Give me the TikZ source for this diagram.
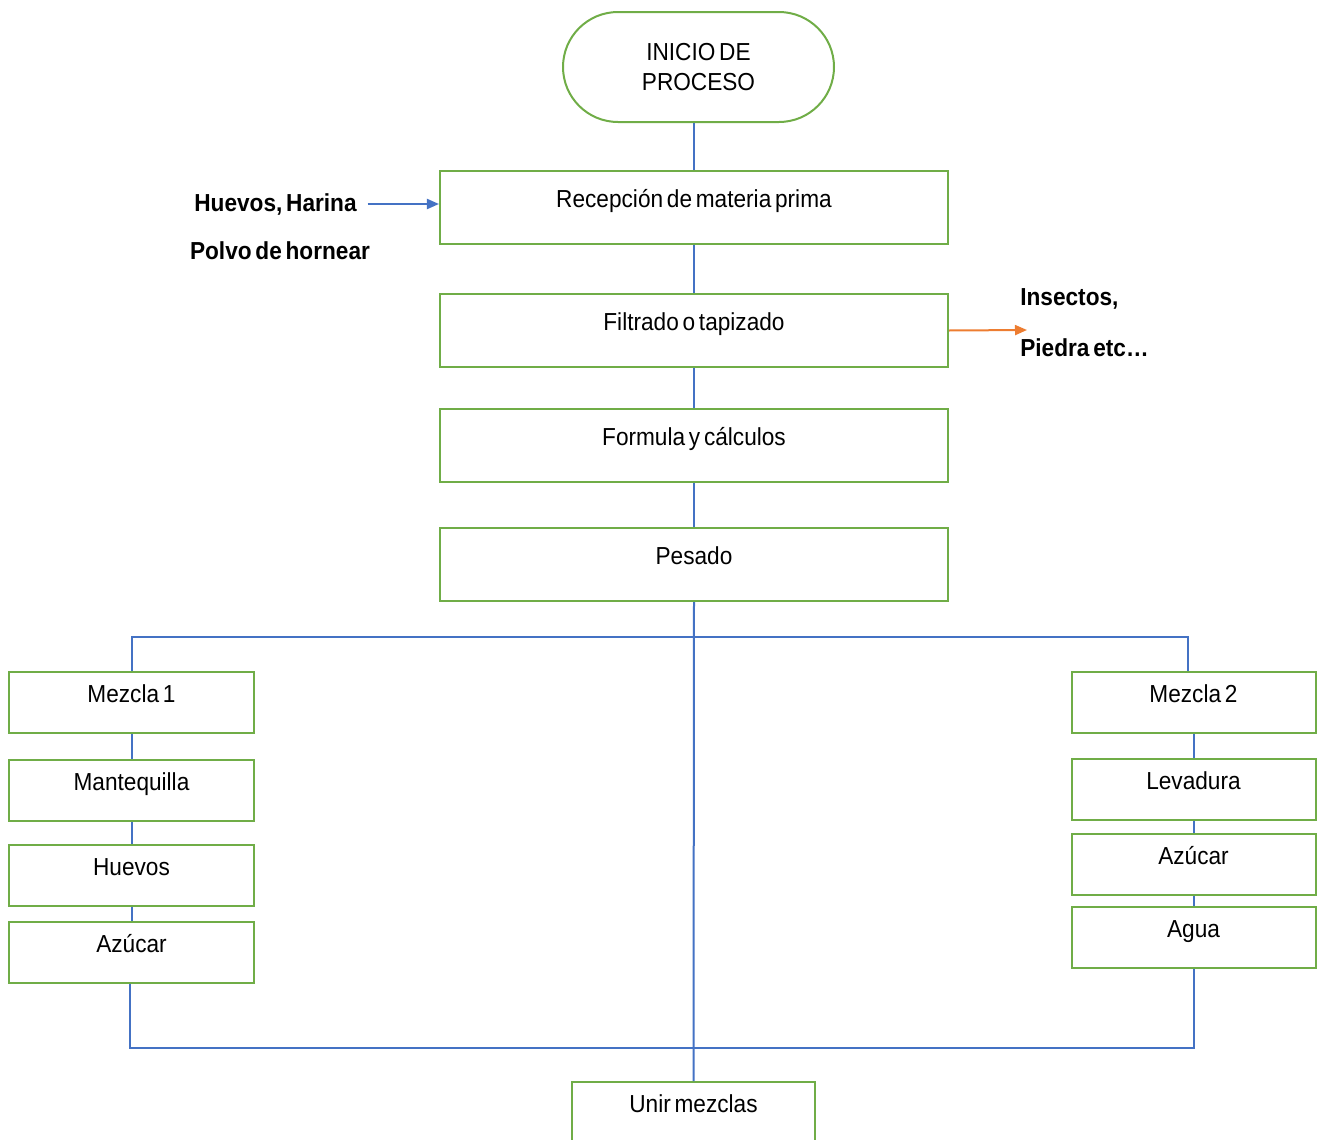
\documentclass[tikz,border=0pt]{standalone}
\usepackage{fontspec}
\setmainfont{Liberation Sans}[FakeStretch=0.92,WordSpace=0.6]
\usetikzlibrary{arrows.meta}
\definecolor{boxgreen}{RGB}{112,173,71}
\definecolor{lineblue}{RGB}{68,114,196}
\definecolor{outorange}{RGB}{237,125,49}

\begin{document}
\begin{tikzpicture}[x=0.2mm,y=-0.2mm,
 every node/.style={font=\fontsize{14}{17}\selectfont},
 mainbox/.style={draw=boxgreen,line width=0.4mm,fill=white,inner sep=0pt,minimum width=101.6mm,text height=7.3mm,text depth=7.3mm},
 colbox/.style={draw=boxgreen,line width=0.4mm,fill=white,inner sep=0pt,minimum width=48.8mm,text height=6.1mm,text depth=6.1mm},
 link/.style={draw=lineblue,line width=0.4mm},
 inlabel/.style={font=\fontsize{14}{17}\selectfont\bfseries,inner sep=0pt}]
 \clip (0,0) rectangle (1323,1140);
 \node[draw=boxgreen,line width=0.4mm,rounded corners=11mm,minimum width=54.2mm,minimum height=22mm,align=center] (start) at (698.5,67) {INICIO DE\\PROCESO};
 \node[mainbox] (rec) at (694,207) {Recepción de materia prima};
 \node[mainbox] (fil) at (694,330.5) {Filtrado o tapizado};
 \node[mainbox] (for) at (694,445.5) {Formula y cálculos};
 \node[mainbox] (pes) at (694,564.5) {Pesado};
 \node[colbox] (mez1) at (131.5,702.5) {Mezcla 1};
 \node[colbox] (man) at (131.5,790) {Mantequilla};
 \node[colbox] (hue) at (131.5,875) {Huevos};
 \node[colbox] (azu1) at (131.5,952) {Azúcar};
 \node[colbox] (mez2) at (1193.5,702.5) {Mezcla 2};
 \node[colbox] (lev) at (1193.5,789) {Levadura};
 \node[colbox] (azu2) at (1193.5,864) {Azúcar};
 \node[colbox] (agu) at (1193.5,937) {Agua};
 \node[colbox,minimum width=48.6mm] (unir) at (693.5,1112.5) {Unir mezclas};
 \node[inlabel,anchor=east] (hh) at (357,204) {Huevos, Harina};
 \node[inlabel] (ph) at (280,251) {Polvo de hornear};
 \node[inlabel,anchor=west] (ins) at (1020,299) {Insectos,};
 \node[inlabel,anchor=west] (pie) at (1020,348) {Piedra etc…};
 \coordinate (out) at (1027,330);
 \draw[link] (rec.north |- start.south) -- (rec.north);
 \draw[link] (rec.south) -- (fil.north);
 \draw[link] (fil.south) -- (for.north);
 \draw[link] (for.south) -- (pes.north);
 \draw[link] (pes.south) -- (unir.north);
 \draw[link] (mez1.north) -- ++(0,-34) -| ([xshift=-3]mez2.north);
 \draw[link] (mez1.south) -- (man.north);
 \draw[link] (man.south) -- (hue.north);
 \draw[link] (hue.south) -- (azu1.north);
 \draw[link] (mez2.south) -- (lev.north);
 \draw[link] (lev.south) -- (azu2.north);
 \draw[link] (azu2.south) -- (agu.north);
 \draw[link] ([xshift=-1]azu1.south) -- ++(0,64) -| (agu.south);
 \draw[link,-{Triangle[length=2.4mm,width=2mm]}] ([xshift=6]hh.east) -- (rec.west |- hh.east);
 \draw[draw=outorange,line width=0.4mm,-{Triangle[length=2.4mm,width=2mm]}] (fil.east) -- (out);
\end{tikzpicture}
\end{document}
